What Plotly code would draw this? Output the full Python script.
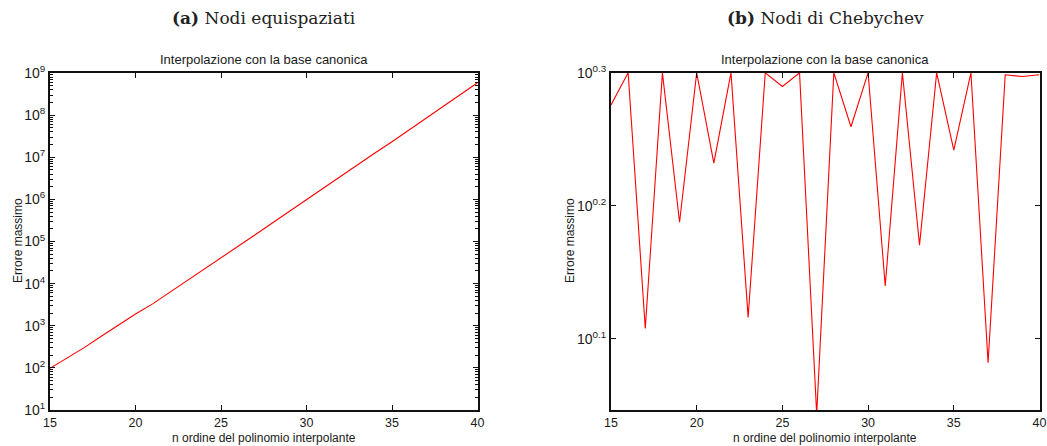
import plotly.graph_objects as go
from plotly.subplots import make_subplots

n_vals = list(range(15, 41))

err_equi = [97.7, 170, 302, 562, 1047, 1905, 3311, 6166, 11482, 21380,
            39811, 75858, 144544, 275423, 524807, 1.0e6, 1.862e6, 3.548e6,
            6.607e6, 1.259e7, 2.344e7, 4.467e7, 8.511e7, 1.622e8, 3.090e8, 5.888e8]

err_cheb = [1.888, 1.996, 1.282, 1.996, 1.541, 1.996, 1.707, 1.996, 1.307, 1.996,
            1.949, 1.996, 1.105, 1.996, 1.818, 1.996, 1.380, 1.996, 1.481, 1.996,
            1.746, 1.996, 1.208, 1.989, 1.983, 1.989]

x_ticks = [15, 20, 25, 30, 35, 40]
left_exp = [1, 2, 3, 4, 5, 6, 7, 8, 9]
right_exp = [0.1, 0.2, 0.3]

main_titles = ["<b>(a)</b> Nodi equispaziati", "<b>(b)</b> Nodi di Chebychev"]
sub_title = "Interpolazione con la base canonica"
x_title = "n ordine del polinomio interpolante"
y_title = "Errore massimo"

fig = make_subplots(rows=1, cols=2)

fig.add_trace(go.Scatter(x=n_vals, y=err_equi, mode="lines",
                         line=dict(color="#ff0000", width=1.1), showlegend=False), 1, 1)
fig.add_trace(go.Scatter(x=n_vals, y=err_cheb, mode="lines",
                         line=dict(color="#ff0000", width=1.1), showlegend=False), 1, 2)

W, H = 1047, 446
dom_l = [50 / W, 477.5 / W]
dom_r = [611 / W, 1039.5 / W]
ydom = [36 / H, 373 / H]

xtickfont = dict(family="Liberation Sans, Arial, sans-serif", size=12.5, color="#1a1a1a")
ytickfont = dict(family="Liberation Sans, Arial, sans-serif", size=14, color="#1a1a1a")
labfont = dict(family="Liberation Sans, Arial, sans-serif", size=12, color="#1a1a1a")
axcommon = dict(showline=True, linecolor="#111", linewidth=2, mirror="allticks",
                ticks="inside", tickcolor="#111", tickwidth=1, ticklen=5,
                showgrid=False, zeroline=False, automargin=False)

fig.update_xaxes(range=[15, 40], tickvals=x_ticks, ticktext=[str(v) for v in x_ticks],
                 tickfont=xtickfont, **axcommon)
fig.layout.xaxis.domain = dom_l
fig.layout.xaxis2.domain = dom_r

fig.update_yaxes(type="log", tickfont=ytickfont, **axcommon)
fig.layout.yaxis.update(domain=ydom, range=[1, 9],
                        tickvals=[10 ** e for e in left_exp],
                        ticktext=["10<sup>%d</sup>" % e for e in left_exp],
                        minor=dict(ticks="inside", ticklen=3, tickcolor="#111",
                                   tickwidth=1, showgrid=False,
                                   tickvals=[m * 10 ** e for e in range(1, 9) for m in range(2, 10)]))
fig.layout.yaxis2.update(domain=ydom, range=[0.0466, 0.3],
                         tickvals=[10 ** e for e in right_exp],
                         ticktext=["10<sup>%g</sup>" % e for e in right_exp])

titlefont = dict(family="DejaVu Serif, Liberation Serif, serif", size=17, color="#222")
subfont = dict(family="Liberation Sans, Arial, sans-serif", size=13, color="#1a1a1a")
ylab_x = [18, 570]
for dom, t, yx in zip([dom_l, dom_r], main_titles, ylab_x):
    cx = (dom[0] + dom[1]) / 2
    fig.add_annotation(x=cx, y=1 - 18 / H, xref="paper", yref="paper", text=t,
                       showarrow=False, font=titlefont, xanchor="center", yanchor="middle")
    fig.add_annotation(x=cx, y=1 - 59 / H, xref="paper", yref="paper", text=sub_title,
                       showarrow=False, font=subfont, xanchor="center", yanchor="middle")
    fig.add_annotation(x=cx, y=1 - 438 / H, xref="paper", yref="paper", text=x_title,
                       showarrow=False, font=labfont, xanchor="center", yanchor="middle")
    fig.add_annotation(x=yx / W, y=1 - 241 / H, xref="paper", yref="paper", text=y_title,
                       showarrow=False, font=labfont, xanchor="center", yanchor="middle",
                       textangle=-90)

fig.update_layout(width=W, height=H, margin=dict(l=0, r=0, t=0, b=0),
                  plot_bgcolor="white", paper_bgcolor="white")

fig.write_html("out.html")
